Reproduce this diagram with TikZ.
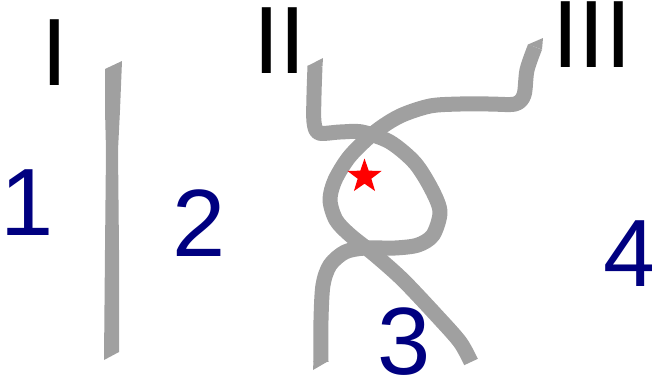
\documentclass[tikz,border=0pt]{standalone}
\usepackage{fontspec}
\setmainfont{Liberation Sans}
\usetikzlibrary{shapes.geometric}
\definecolor{ribbon}{HTML}{A0A0A0}
\definecolor{navy}{HTML}{000080}

\begin{document}
\begin{tikzpicture}[x=1bp,y=-1bp,
  strand/.style={draw=ribbon,line width=15bp,line cap=butt,line join=round},
  region/.style={navy,font=\fontsize{96}{96}\selectfont,inner sep=0pt,anchor=base west},
  level/.style={black,font=\fontsize{96}{96}\selectfont,inner sep=0pt,anchor=base west}]
  \useasboundingbox (0,0) rectangle (652,377);

  % Straight strand
  \fill[ribbon] (105,69) -- (122,61) -- (120,110) -- (118,150) -- (119,250) -- (119,352)
    -- (104,360) -- (105,250) -- (106,150) -- (105,110) -- cycle;

  % Strand from II
  \draw[strand] plot[smooth,tension=0.5] coordinates {(315,66) (314,95) (314,122) (319,133)
    (340,132) (362,132) (390,142) (415,163) (432,190) (440,212) (433,235) (418,245) (395,248)
    (365,248) (345,252) (330,265) (323,285) (321,320) (321,362)};
  \fill[ribbon] (307.5,66) -- (322.5,66) -- (323,58) -- cycle;
  \fill[ribbon] (313.5,361) -- (328.5,361) -- (313,370) -- cycle;

  % Strand from III
  \draw[strand] plot[smooth,tension=0.5] coordinates {(535,47) (527,70) (524,95) (515,104)
    (490,104) (460,104) (430,106) (400,116) (375,132) (350,156) (335,180) (330,200) (336,220)
    (350,235) (375,255) (403,280) (437,316) (460,342) (471,362)};
  \fill[ribbon] (528,44.5) -- (542,49.5) -- (543,38) -- cycle;

  % Star
  \node[star,star points=5,star point ratio=2.5,fill=red,minimum size=36bp,inner sep=0pt] (star) at (364.5,176.5) {};

  % Levels
  \node[level] (lvlI) at (41,85) {I};
  \node[level] (lvlII) at (253,73) {II};
  \node[level] (lvlIII) at (552,67) {III};

  % Regions
  \node[region] (reg1) at (0,235) {1};
  \node[region] (reg2) at (172.5,256) {2};
  \node[region] (reg3) at (377,374) {3};
  \node[region] (reg4) at (603,286) {4};
\end{tikzpicture}
\end{document}
